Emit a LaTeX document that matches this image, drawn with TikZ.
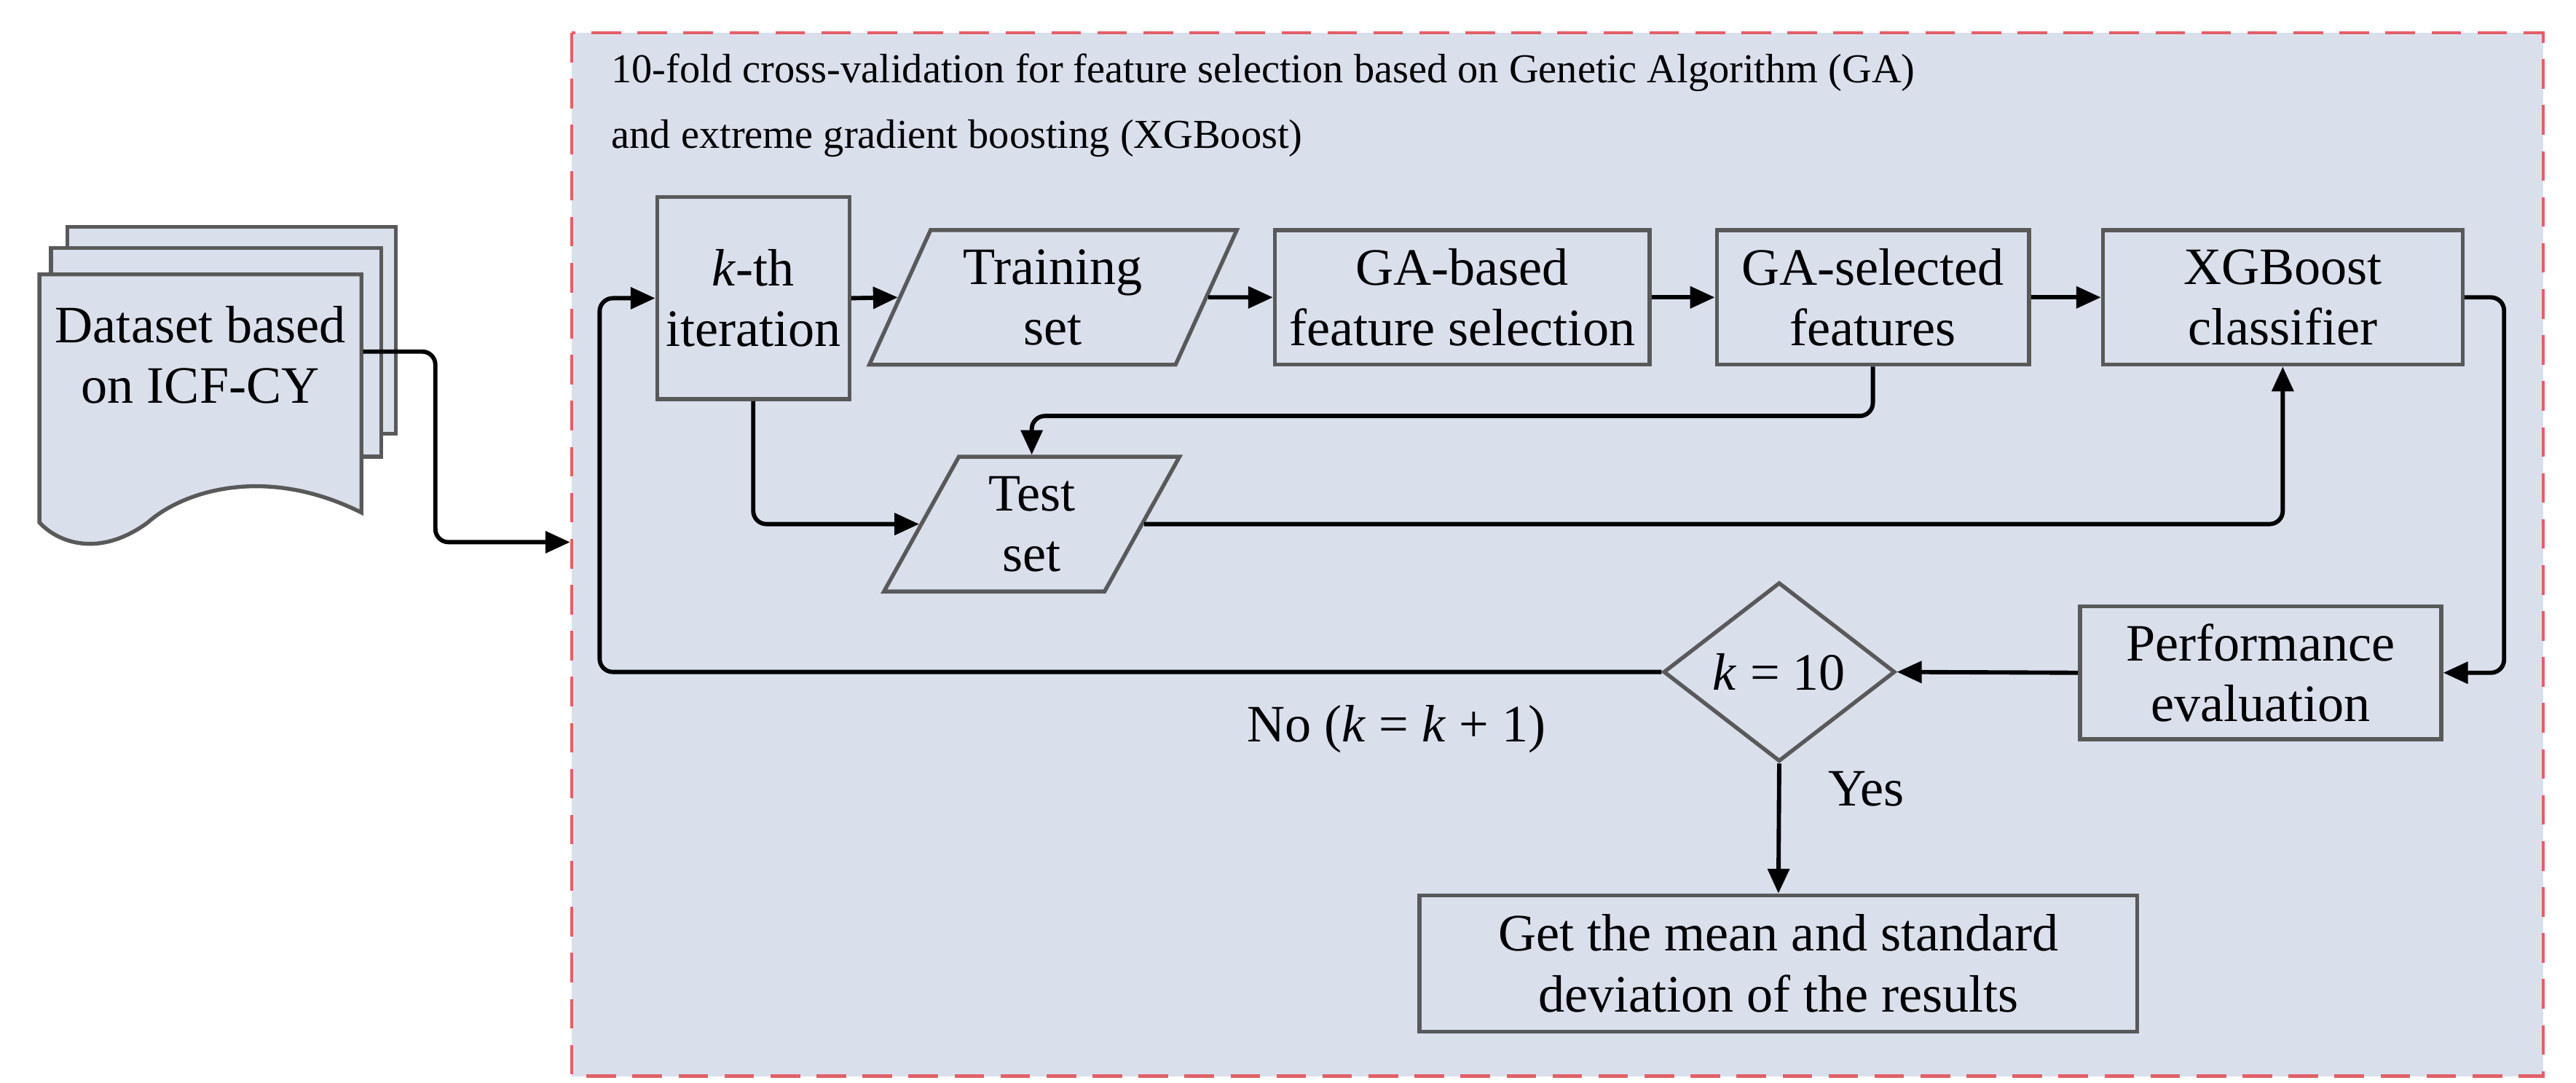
\documentclass[tikz,border=0pt]{standalone}
\usepackage{fontspec}
\setmainfont{Liberation Serif}
\usetikzlibrary{shapes.geometric,arrows.meta}
\definecolor{bg}{RGB}{218,223,236}
\definecolor{bd}{RGB}{89,89,89}
\definecolor{dred}{RGB}{226,96,104}
\begin{document}
\begin{tikzpicture}[x=1pt,y=-1pt,
  box/.style={draw=bd,fill=bg,line width=2.4pt,inner sep=0pt,align=center,font=\fontsize{32}{37}\selectfont},
  para/.style={box,trapezium,trapezium left angle=65,trapezium right angle=115,trapezium stretches=true},
  conn/.style={line width=2.6pt,rounded corners=8pt,-{Triangle[length=15pt,width=13pt]}},
  lbl/.style={inner sep=0pt,font=\fontsize{32}{37}\selectfont}]
\useasboundingbox (0,0) rectangle (1568,659);
\draw[dred,fill=bg,line width=2pt,dash pattern=on 18pt off 10pt] (348,20) rectangle (1548,655);
% document stack
\draw[bd,fill=bg,line width=2.4pt] (41,138) rectangle (241,264);
\draw[bd,fill=bg,line width=2.4pt] (31,151) rectangle (232,278);
\draw[bd,fill=bg,line width=2.4pt] (24,167) -- (220,167) -- (220,312) .. controls (160,282) and (110,300) .. (90,318) .. controls (60,340) and (35,330) .. (24,318) -- cycle;
\node[lbl,align=center] (doc) at (122,216) {Dataset based\\on ICF-CY};
\node[lbl,anchor=west,align=left,font=\fontsize{25}{40}\selectfont] (title) at (372,64) {10-fold cross-validation for feature selection based on Genetic Algorithm (GA)\\and extreme gradient boosting (XGBoost)};
\node[box,minimum width=117pt,minimum height=123pt] (kth) at (458.5,181.5) {\textit{k}-th\\iteration};
\node[para,minimum width=224pt,minimum height=82pt] (train) at (641,181) {Training\\set};
\node[box,minimum width=228pt,minimum height=82pt] (gab) at (890,181) {GA-based\\feature selection};
\node[box,minimum width=190pt,minimum height=82pt] (gas) at (1140,181) {GA-selected\\features};
\node[box,minimum width=219pt,minimum height=82pt] (xgb) at (1389.5,181) {XGBoost\\classifier};
\node[para,minimum width=180pt,minimum height=82pt] (test) at (628,319) {Test\\set};
\node[box,minimum width=220pt,minimum height=81pt] (perf) at (1376,409.5) {Performance\\evaluation};
\node[box,diamond,minimum width=141pt,minimum height=109pt] (dia) at (1083,409) {\textit{k} = 10};
\node[box,minimum width=437pt,minimum height=83pt] (fin) at (1082.5,586.5) {Get the mean and standard\\deviation of the results};
\node[lbl] (no) at (850,444) {No (\textit{k} = \textit{k} + 1)};
\node[lbl] (yes) at (1136,480) {Yes};
\coordinate (dstart) at (221,214);
\coordinate (din) at (347,330);
\coordinate (loop) at (365,409);
\draw[conn] (dstart) -- (265,214) |- (din);
\draw[conn] (kth.east) -- (train.west);
\draw[conn] (train.east) -- (gab.west);
\draw[conn] (gab.east) -- (gas.west);
\draw[conn] (gas.east) -- (xgb.west);
\draw[conn] (xgb.east) -- ++(24,0) |- (perf.east);
\draw[conn] (perf.west) -- (dia.east);
\draw[conn] (dia.west) -- (loop) |- (kth.west);
\draw[conn] (dia.south) -- (fin.north);
\draw[conn] (gas.south) -- ++(0,30) -| (test.north);
\draw[conn] (kth.south) |- (test.west);
\draw[conn] (test.east) -| (xgb.south);
\end{tikzpicture}
\end{document}
